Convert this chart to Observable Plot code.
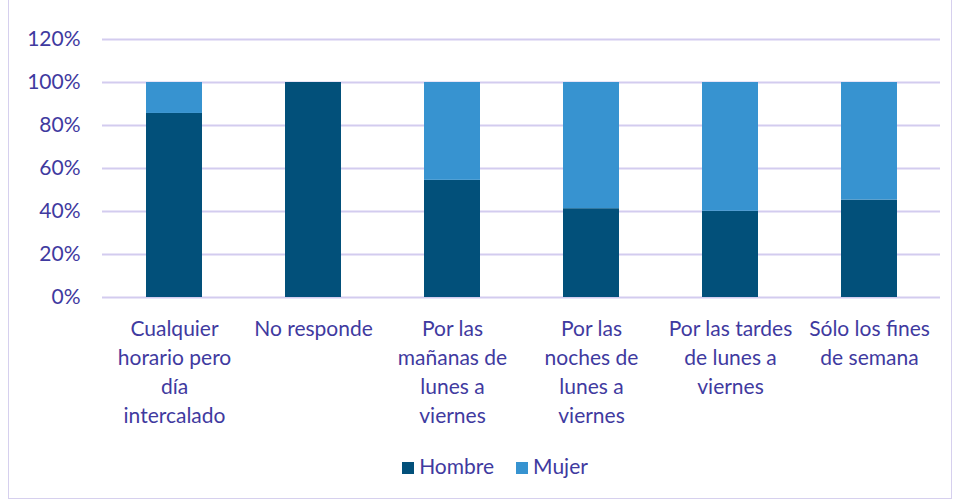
<!DOCTYPE html>
<html><head><meta charset="utf-8">
<script src="https://cdn.jsdelivr.net/npm/d3@7"></script>
<script src="https://cdn.jsdelivr.net/npm/@observablehq/plot@0.6"></script>
<style>
html,body{margin:0;padding:0;background:#fff;}
#wrap{position:absolute;left:8px;top:-1px;width:944px;height:500px;border:1px solid #d6d0ee;box-sizing:border-box;}
#chart{position:absolute;left:0;top:0;width:954px;}
#chart svg{max-width:none;}
#legend{position:absolute;left:0;width:954px;top:453px;display:flex;justify-content:center;gap:22px;color:#3f3aa0;font-size:21px;font-family:Lato,"Open Sans",sans-serif;padding-left:36px;box-sizing:border-box;}
#legend span.sw{display:inline-block;width:12px;height:12px;margin-right:5px;vertical-align:0px;}
</style></head>
<body>
<div id="wrap"></div>
<div id="chart"></div><div id="legend"></div>
<script>
const categories = [
  "Cualquier\nhorario pero\ndía\nintercalado",
  "No responde",
  "Por las\nmañanas de\nlunes a\nviernes",
  "Por las\nnoches de\nlunes a\nviernes",
  "Por las tardes\nde lunes a\nviernes",
  "Sólo los fines\nde semana"
];
const series = ["Hombre", "Mujer"];
const hombre = [0.856, 1.0, 0.545, 0.413, 0.401, 0.453];
const mujer = hombre.map(v => +(1 - v).toFixed(3));
const colors = ["#02507a", "#3793d0"];
const yTicks = [0, 0.2, 0.4, 0.6, 0.8, 1.0, 1.2];

const data = [];
categories.forEach((c, i) => {
  data.push({cat: c, serie: "Hombre", value: hombre[i]});
  data.push({cat: c, serie: "Mujer", value: mujer[i]});
});

const textColor = "#3f3aa0";
const chart = Plot.plot({
  width: 954, height: 445,
  marginTop: 39, marginBottom: 148, marginLeft: 102, marginRight: 14,
  style: {fontFamily: "Lato, 'Open Sans', sans-serif", fontSize: "21px", color: textColor, background: "transparent"},
  x: {domain: categories, paddingInner: 0.6, paddingOuter: 0.3, label: null},
  y: {domain: [0, 1.2], label: null},
  color: {domain: series, range: colors},
  marks: [
    Plot.gridY(yTicks, {stroke: "#d3ccef", strokeOpacity: 1, strokeWidth: 2}),
    Plot.barY(data, {x: "cat", y: "value", fill: "serie", order: series}),
    Plot.axisY(yTicks, {tickSize: 0, tickPadding: 22, tickFormat: d => Math.round(d * 100) + "%", fill: textColor, fontSize: 21, label: null}),
    Plot.axisX({tickSize: 0, tickPadding: 18, fill: textColor, fontSize: 21, lineHeight: 1.38, label: null, textOverflow: null, lineWidth: 100})
  ]
});
document.getElementById("chart").appendChild(chart);

const leg = document.getElementById("legend");
series.forEach((s, i) => {
  const d = document.createElement("div");
  d.innerHTML = `<span class="sw" style="background:${colors[i]}"></span>${s}`;
  leg.appendChild(d);
});
</script>
</body></html>
